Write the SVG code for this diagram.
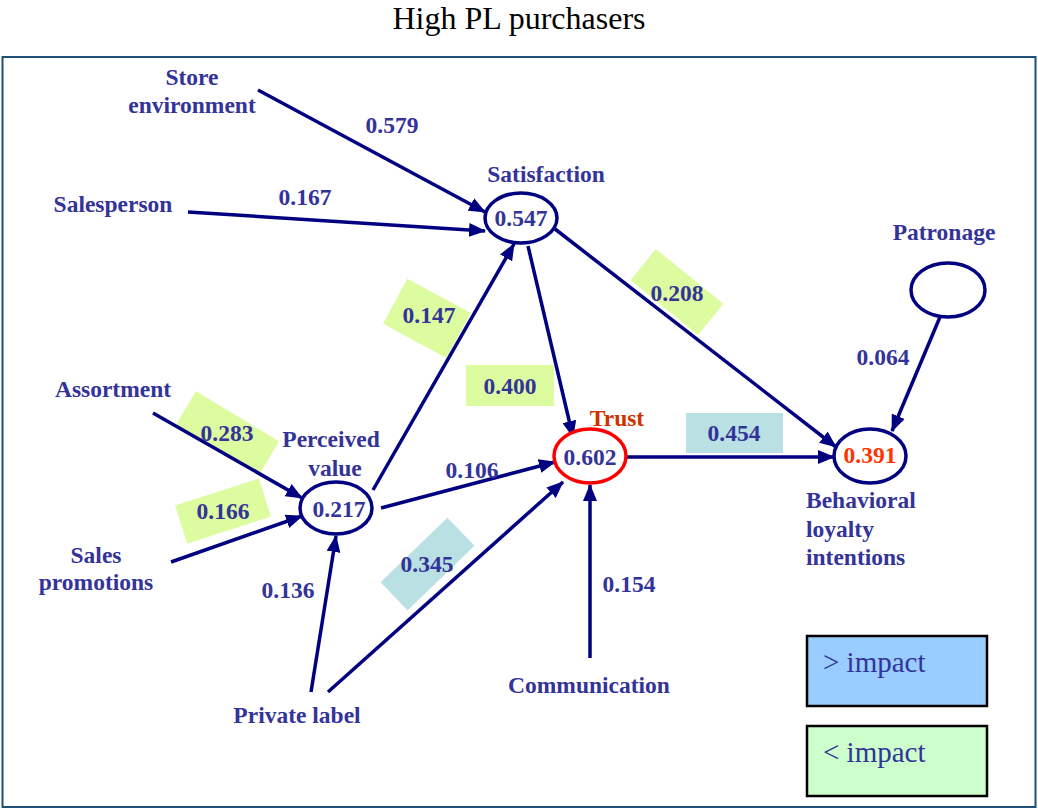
<svg xmlns="http://www.w3.org/2000/svg" width="1038" height="810" viewBox="0 0 1038 810">
<defs>
<marker id="arr" markerUnits="userSpaceOnUse" markerWidth="17" markerHeight="14" refX="16" refY="7" orient="auto">
<path d="M0,0 L17,7 L0,14 z" fill="#000080"/>
</marker>
<style>
.t{font-family:"Liberation Serif","Times New Roman",serif;font-weight:bold;font-size:23.5px;fill:#333399;text-anchor:middle}
.l{text-anchor:start}
.c{fill:none;stroke:#000080;stroke-width:3.5}
.e{fill:#fff;stroke:#000080;stroke-width:3.5}
.g{fill:#ddfb9f}
.b{fill:#b9e0e3}
.lg{font-family:"Liberation Serif","Times New Roman",serif;font-size:29px;fill:#333399}
</style>
</defs>
<rect width="1038" height="810" fill="#fff"/>
<text x="519" y="29" font-family="'Liberation Serif','Times New Roman',serif" font-size="32" text-anchor="middle" fill="#000">High PL purchasers</text>
<rect x="2.5" y="57" width="1033" height="750" fill="none" stroke="#1f4e79" stroke-width="2"/>

<g id="label-boxes">
<rect class="g" x="-36" y="-20" width="72" height="51" transform="translate(429.5,313.5) rotate(28.4)" />
<rect class="g" x="466" y="365" width="88" height="41"/>
<rect class="g" x="-43.5" y="-20" width="87" height="40" transform="translate(677,292) rotate(39)"/>
<rect class="g" x="-48.5" y="-19.5" width="97" height="39" transform="translate(227.5,433) rotate(31)"/>
<rect class="g" x="-44" y="-20" width="88" height="40" transform="translate(223,511) rotate(-17.8)"/>
<rect class="b" x="-46.5" y="-19.5" width="93" height="39" transform="translate(427.5,564) rotate(-44)"/>
<rect class="b" x="686" y="413" width="97" height="40"/>
</g>

<g id="connectors">
<line class="c" x1="258" y1="90" x2="485" y2="212" marker-end="url(#arr)"/>
<line class="c" x1="188" y1="212" x2="485" y2="231" marker-end="url(#arr)"/>
<line class="c" x1="373" y1="490" x2="514" y2="244" marker-end="url(#arr)"/>
<line class="c" x1="528" y1="246" x2="573" y2="437" marker-end="url(#arr)"/>
<line class="c" x1="555" y1="229" x2="836" y2="447" marker-end="url(#arr)"/>
<line class="c" x1="940" y1="317" x2="892" y2="431" marker-end="url(#arr)"/>
<line class="c" x1="626" y1="457" x2="834" y2="457" marker-end="url(#arr)"/>
<line class="c" x1="153" y1="413" x2="302" y2="498" marker-end="url(#arr)"/>
<line class="c" x1="171" y1="562" x2="302" y2="516" marker-end="url(#arr)"/>
<line class="c" x1="311" y1="692" x2="336" y2="536" marker-end="url(#arr)"/>
<line class="c" x1="381" y1="508" x2="555" y2="462" marker-end="url(#arr)"/>
<line class="c" x1="328" y1="692" x2="563" y2="482" marker-end="url(#arr)"/>
<line class="c" x1="590" y1="658" x2="590" y2="485" marker-end="url(#arr)"/>
</g>

<g id="edge-labels">
<text class="t" x="392" y="133">0.579</text>
<text class="t" x="305" y="205">0.167</text>
<text class="t" x="429" y="323">0.147</text>
<text class="t" x="510" y="394">0.400</text>
<text class="t" x="677" y="301">0.208</text>
<text class="t" x="883" y="365">0.064</text>
<text class="t" x="734" y="441">0.454</text>
<text class="t" x="227" y="441">0.283</text>
<text class="t" x="223" y="519">0.166</text>
<text class="t" x="472" y="478">0.106</text>
<text class="t" x="427" y="572">0.345</text>
<text class="t" x="288" y="598">0.136</text>
<text class="t" x="629" y="592">0.154</text>
</g>

<g id="store-environment"><text class="t" x="192" y="85">Store</text><text class="t" x="192" y="113">environment</text></g>
<g id="salesperson"><text class="t" x="113" y="212">Salesperson</text></g>
<g id="assortment"><text class="t" x="113" y="397">Assortment</text></g>
<g id="sales-promotions"><text class="t" x="96" y="563">Sales</text><text class="t" x="96" y="590">promotions</text></g>
<g id="private-label"><text class="t" x="297" y="723">Private label</text></g>
<g id="communication"><text class="t" x="589" y="693">Communication</text></g>

<g id="satisfaction">
<ellipse class="e" cx="521" cy="218" rx="36" ry="25"/>
<text class="t" x="546" y="182">Satisfaction</text>
<text class="t" x="521" y="226">0.547</text>
</g>
<g id="perceived-value">
<ellipse class="e" cx="336" cy="508" rx="36" ry="26"/>
<text class="t" x="331" y="447">Perceived</text>
<text class="t" x="335" y="476">value</text>
<text class="t" x="339" y="517">0.217</text>
</g>
<g id="trust">
<ellipse cx="590" cy="456" rx="36" ry="27" fill="#fff" stroke="#ff0000" stroke-width="3.5"/>
<text class="t" x="617" y="426" style="fill:#cc3300">Trust</text>
<text class="t" x="590" y="465">0.602</text>
</g>
<g id="behavioral-loyalty">
<ellipse class="e" cx="870" cy="456" rx="36" ry="27"/>
<text class="t" x="870" y="463" style="fill:#ff3300">0.391</text>
<text class="t l" x="806" y="508">Behavioral</text>
<text class="t l" x="806" y="537">loyalty</text>
<text class="t l" x="806" y="565">intentions</text>
</g>
<g id="patronage">
<ellipse class="e" cx="948" cy="290" rx="37" ry="27"/>
<text class="t" x="944" y="240">Patronage</text>
</g>

<g id="legend">
<rect x="807" y="636" width="180" height="70" fill="#99ccff" stroke="#000" stroke-width="2.5"/>
<text class="lg" x="823" y="672">&gt; impact</text>
<rect x="807" y="726" width="180" height="70" fill="#ccffcc" stroke="#000" stroke-width="2.5"/>
<text class="lg" x="823" y="762">&lt; impact</text>
</g>
</svg>
